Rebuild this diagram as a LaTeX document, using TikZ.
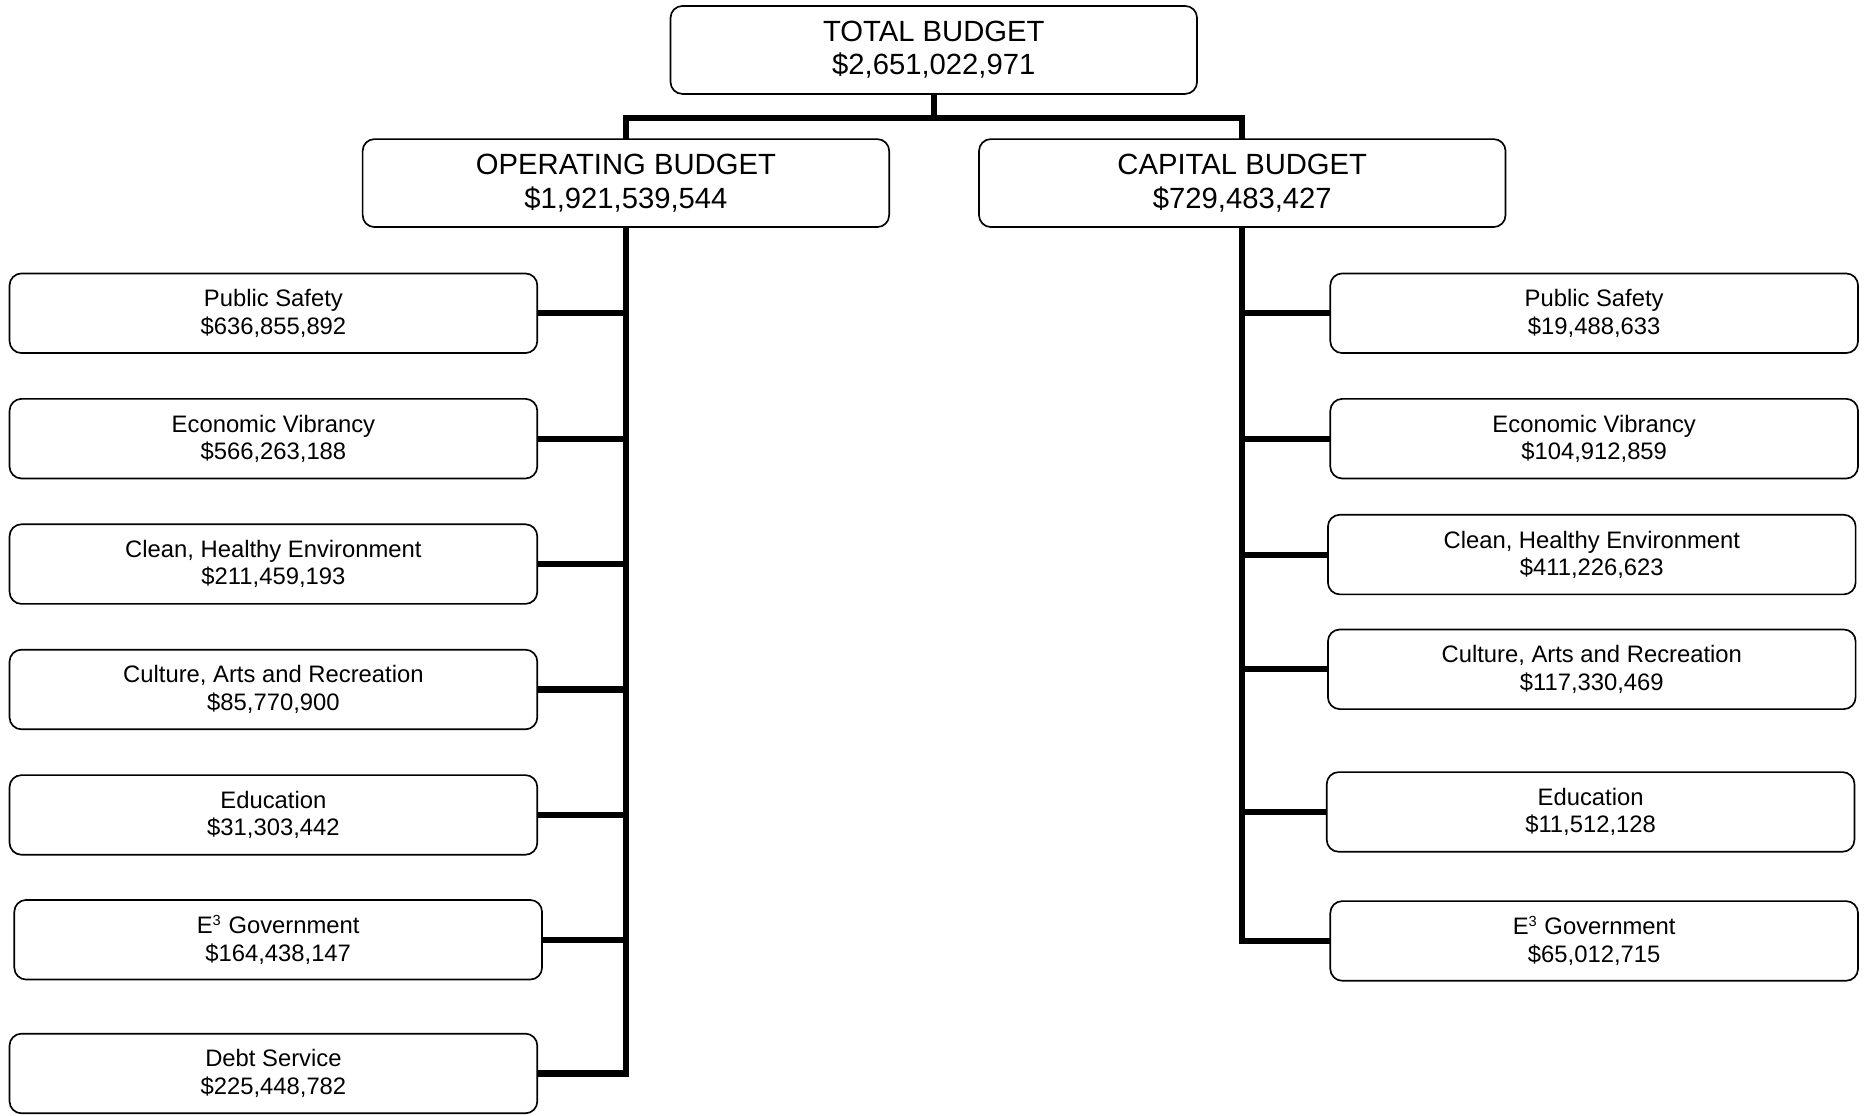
\documentclass[tikz,border=0pt]{standalone}
\usepackage{fontspec}
\setmainfont{Liberation Sans}
\newcommand{\supthree}{\textsuperscript{\fontsize{7}{7}\selectfont 3}}
\begin{document}
\begin{tikzpicture}[x=0.02cm,y=-0.02cm,
  bigbox/.style={draw,rounded corners=0.2cm,line width=0.8pt,minimum width=8.86cm,minimum height=1.48cm,inner sep=0pt,outer sep=0pt,align=center,font=\fontsize{14}{16}\selectfont},
  smallbox/.style={draw,rounded corners=0.2cm,line width=0.8pt,minimum width=8.88cm,minimum height=1.34cm,inner sep=0pt,outer sep=0pt,align=center,font=\fontsize{11.4}{13.1}\selectfont},
  conn/.style={line width=2.9pt}]
\useasboundingbox (0,0) rectangle (1568,938);
% top level
\node[bigbox] (tot) at (785.5,42) {TOTAL BUDGET\\\$2,651,022,971};
\node[bigbox] (op) at (526.5,154) {OPERATING BUDGET\\\$1,921,539,544};
\node[bigbox] (cap) at (1045,154) {CAPITAL BUDGET\\\$729,483,427};
% operating
\node[smallbox] (l1) at (230,263.5) {Public Safety\\\$636,855,892};
\node[smallbox] (l2) at (230,369) {Economic Vibrancy\\\$566,263,188};
\node[smallbox] (l3) at (230,474.5) {Clean, Healthy Environment\\\$211,459,193};
\node[smallbox] (l4) at (230,580) {Culture, Arts and Recreation\\\$85,770,900};
\node[smallbox] (l5) at (230,685.5) {Education\\\$31,303,442};
\node[smallbox] (l6) at (234,790.5) {E\supthree\ Government\\\$164,438,147};
\node[smallbox] (l7) at (230,903) {Debt Service\\\$225,448,782};
% capital
\node[smallbox] (r1) at (1341,263.5) {Public Safety\\\$19,488,633};
\node[smallbox] (r2) at (1341,369) {Economic Vibrancy\\\$104,912,859};
\node[smallbox] (r3) at (1339,466.5) {Clean, Healthy Environment\\\$411,226,623};
\node[smallbox] (r4) at (1339,563) {Culture, Arts and Recreation\\\$117,330,469};
\node[smallbox] (r5) at (1338,683) {Education\\\$11,512,128};
\node[smallbox] (r6) at (1341,791.5) {E\supthree\ Government\\\$65,012,715};
% connectors
\coordinate (bus) at (785.5,99);
\draw[conn] (tot.south) -- (bus);
\draw[conn] (bus) -| (op.north);
\draw[conn] (bus) -| (cap.north);
\foreach \n in {l1,l2,l3,l4,l5,l6,l7}{
  \draw[conn] (op.south) |- (\n.east);
}
\foreach \n in {r1,r2,r3,r4,r5,r6}{
  \draw[conn] (cap.south) |- (\n.west);
}
\end{tikzpicture}
\end{document}
